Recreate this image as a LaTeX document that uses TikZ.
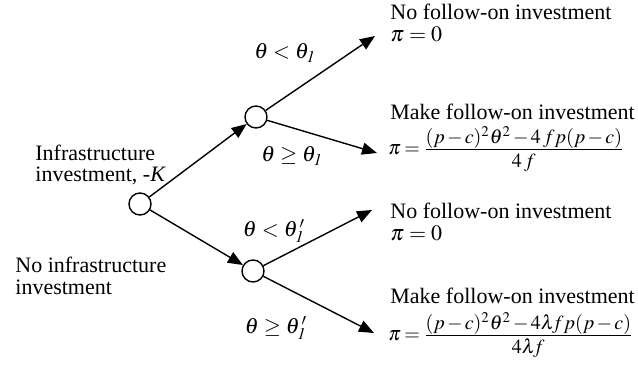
\documentclass[tikz,border=0pt]{standalone}
\usepackage{amsmath}
\usepackage{mathptmx}
\usepackage{fontspec}
\setmainfont{Liberation Serif}
\usetikzlibrary{arrows.meta}
\newcommand{\tfr}[2]{\frac{\textstyle #1\rule[-2pt]{0pt}{2pt}}{\textstyle \rule{0pt}{8.5pt}#2}}
\begin{document}
\begin{tikzpicture}[x=0.5pt,y=-0.5pt,
  font=\fontsize{11}{13}\selectfont,
  chance/.style={circle,draw,line width=0.7pt,minimum size=11pt,inner sep=0pt},
  branch/.style={line width=0.7pt,-{Triangle[length=7.5pt,width=6pt]}},
  lbl/.style={inner sep=0pt},
  txt/.style={anchor=base west,inner sep=0pt},
  frm/.style={anchor=west,inner sep=0pt,font=\fontsize{10}{12}\selectfont}]
\useasboundingbox (0,0) rectangle (638,373);
\node[chance] (R) at (140,204) {};
\node[chance] (U) at (256,117) {};
\node[chance] (L) at (253,271) {};
\coordinate (A) at (375,36);
\coordinate (B) at (377,153);
\coordinate (C) at (372,210);
\coordinate (D) at (374,333);
\draw[branch] (R) -- (U);
\draw[branch] (R) -- (L);
\draw[branch] (U) -- (A);
\draw[branch] (U) -- (B);
\draw[branch] (L) -- (C);
\draw[branch] (L) -- (D);
% branch labels
\node[lbl] (l1) at (285,53) {$\theta < \theta_{\mathit{1}}$};
\node[lbl] (l2) at (292,156) {$\theta \geq \theta_{\mathit{1}}$};
\node[lbl] (l3) at (274,231) {$\theta < \theta_{\mathit{1}}^{\,\prime}$};
\node[lbl] (l4) at (276,328) {$\theta \geq \theta_{\mathit{1}}^{\,\prime}$};
% left texts
\node[txt] (t1) at (35,161) {Infrastructure};
\node[txt] (t2) at (35,182) {investment, -\textit{K}};
\node[txt] (t3) at (15,273) {No infrastructure};
\node[txt] (t4) at (15,295) {investment};
% outcomes
\node[txt] (o1) at (390,20) {No follow-on investment};
\node[txt] (o1p) at (390,42) {$\pi = 0$};
\node[txt] (o2) at (390,120) {Make follow-on investment};
\node[frm] (o2p) at (388,149) {$\medmuskip=2mu\thickmuskip=3mu \pi = \tfr{(p-c)^2\theta^2 - 4\,fp(p-c)}{4\,f}$};
\node[txt] (o3) at (390,219) {No follow-on investment};
\node[txt] (o3p) at (390,241) {$\pi = 0$};
\node[txt] (o4) at (390,304) {Make follow-on investment};
\node[frm] (o4p) at (388,335) {$\medmuskip=2mu\thickmuskip=3mu \pi = \tfr{(p-c)^2\theta^2 - 4\lambda\!fp(p-c)}{4\lambda\!f}$};
\end{tikzpicture}
\end{document}
